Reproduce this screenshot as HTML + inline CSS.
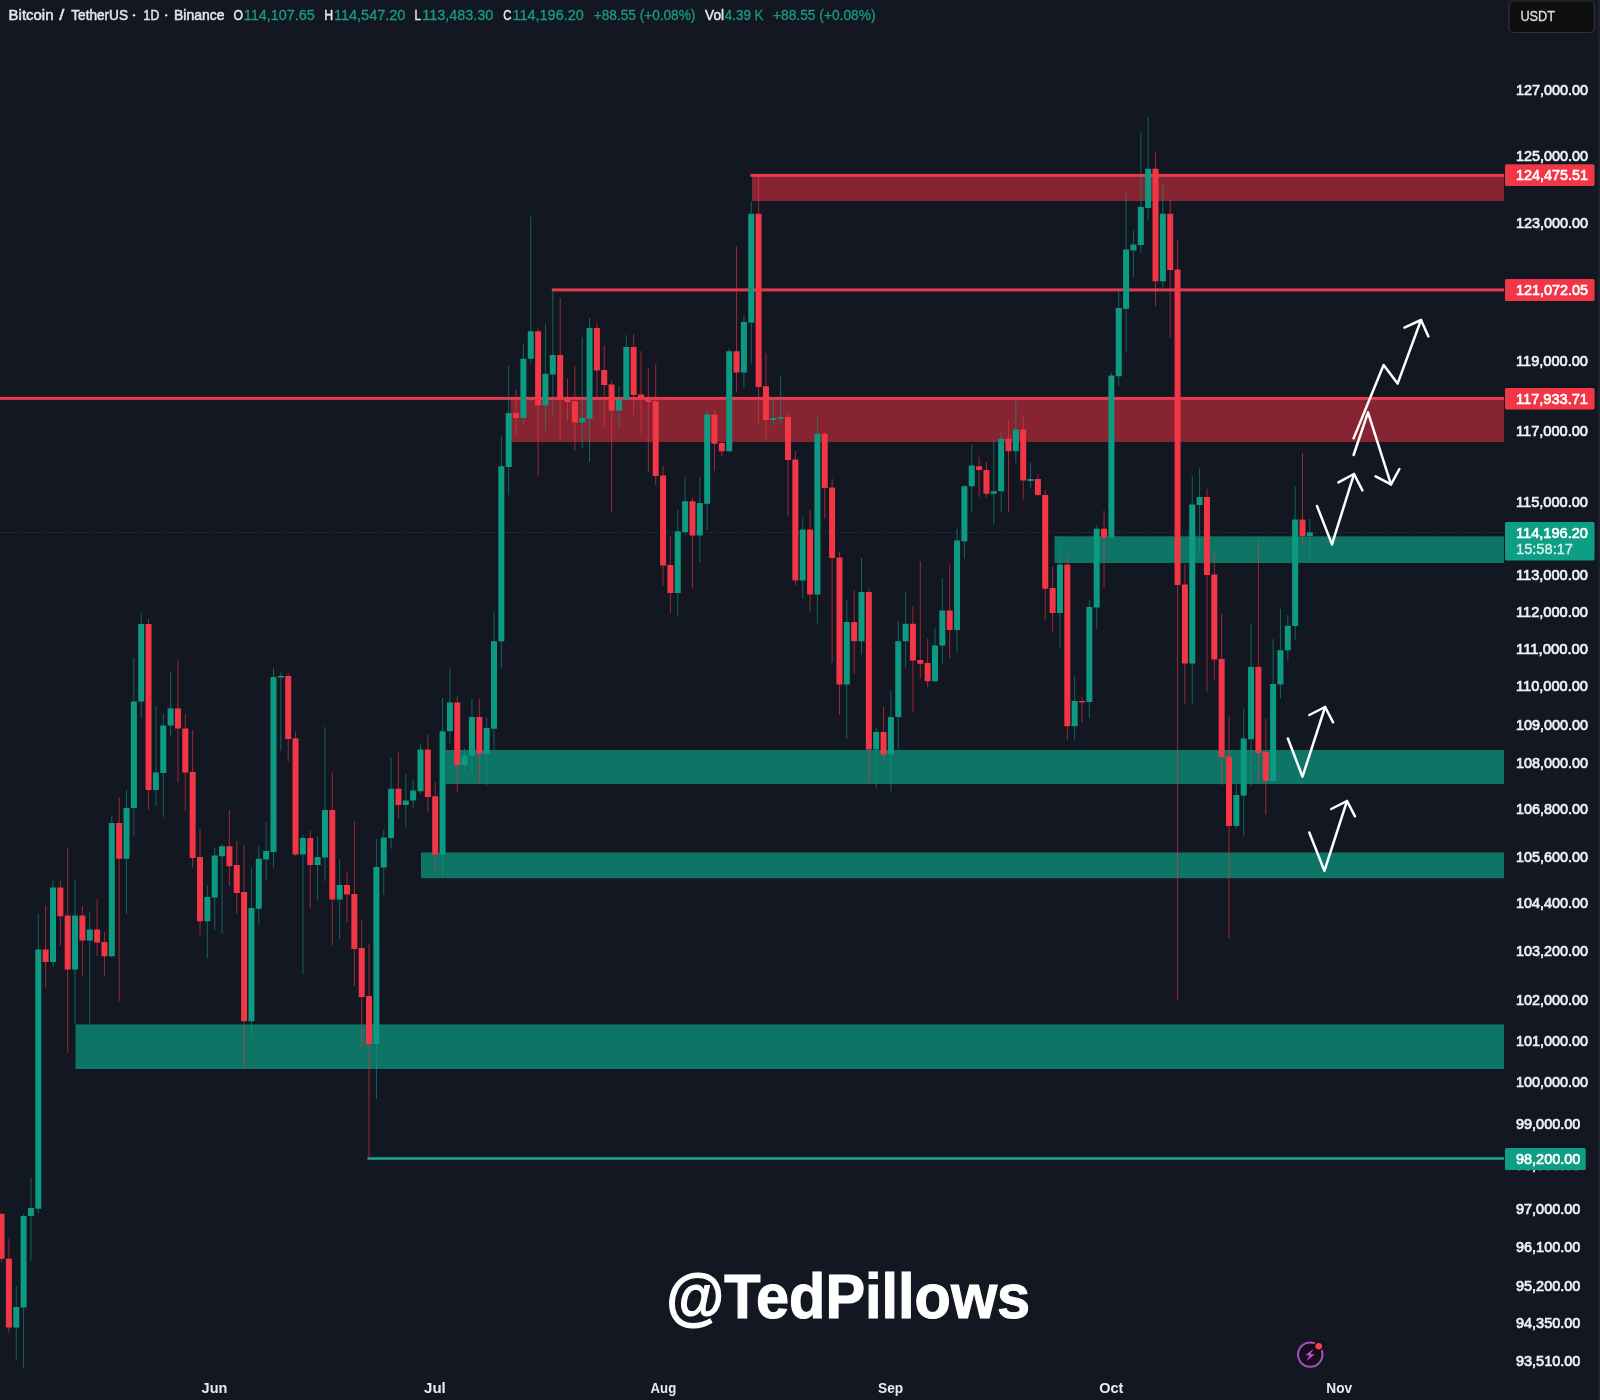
<!DOCTYPE html><html><head><meta charset="utf-8"><title>BTCUSDT</title>
<style>html,body{margin:0;padding:0;background:#131722;overflow:hidden}svg{display:block}text{font-family:"Liberation Sans",sans-serif}</style></head><body>
<svg width="1600" height="1400" viewBox="0 0 1600 1400" >
<defs><filter id="idf" x="0" y="0" width="1" height="1" filterUnits="objectBoundingBox" color-interpolation-filters="sRGB"><feOffset dx="0" dy="0"/></filter></defs>
<rect x="0" y="0" width="1600" height="1400" fill="#131722"/>
<rect x="1598" y="0" width="2" height="1400" fill="#1e222d"/>
<g id="zones">
<rect x="752" y="175" width="752" height="26" fill="#872431"/>
<rect x="750.5" y="173.9" width="753.5" height="3" fill="#e43c4e"/>
<rect x="551.8" y="288.4" width="952.2" height="3" fill="#e43c4e"/>
<rect x="510.5" y="398" width="993.5" height="44" fill="#872431"/>
<rect x="0" y="396.9" width="1504" height="3" fill="#e43c4e"/>
<rect x="1054.5" y="536.3" width="449.5" height="26.7" fill="#0e7466"/>
<rect x="445.5" y="750" width="1058.5" height="34" fill="#0e7466"/>
<rect x="421" y="852.5" width="1083" height="25.7" fill="#0e7466"/>
<rect x="75.5" y="1024.4" width="1428.5" height="44.6" fill="#0e7466"/>
<rect x="367.5" y="1157.2" width="1136.5" height="2.6" fill="#1aa28c"/>
</g>
<line x1="0" y1="532.5" x2="1504" y2="532.5" stroke="#089981" stroke-width="1" stroke-dasharray="1 2" opacity="0.45"/>
<g id="candles">
<rect x="1.05" y="1213.75" width="1" height="48.75" fill="#F23645" opacity="0.6"/>
<rect x="-1.45" y="1213.75" width="6.00" height="45.00" fill="#F23645"/>
<rect x="8.40" y="1239.00" width="1" height="93.50" fill="#F23645" opacity="0.6"/>
<rect x="5.90" y="1258.75" width="6.00" height="68.75" fill="#F23645"/>
<rect x="15.75" y="1286.00" width="1" height="74.00" fill="#0c9a83" opacity="0.6"/>
<rect x="13.25" y="1307.00" width="6.00" height="20.50" fill="#0c9a83"/>
<rect x="23.10" y="1213.75" width="1" height="153.75" fill="#0c9a83" opacity="0.6"/>
<rect x="20.60" y="1216.00" width="6.00" height="91.50" fill="#0c9a83"/>
<rect x="30.45" y="1178.00" width="1" height="83.00" fill="#0c9a83" opacity="0.6"/>
<rect x="27.95" y="1208.00" width="6.00" height="8.00" fill="#0c9a83"/>
<rect x="37.80" y="913.75" width="1" height="300.00" fill="#0c9a83" opacity="0.6"/>
<rect x="35.30" y="949.50" width="6.00" height="259.25" fill="#0c9a83"/>
<rect x="45.15" y="905.50" width="1" height="82.00" fill="#F23645" opacity="0.6"/>
<rect x="42.65" y="949.50" width="6.00" height="12.50" fill="#F23645"/>
<rect x="52.50" y="880.00" width="1" height="87.00" fill="#0c9a83" opacity="0.6"/>
<rect x="50.00" y="887.50" width="6.00" height="74.50" fill="#0c9a83"/>
<rect x="59.85" y="880.50" width="1" height="65.50" fill="#F23645" opacity="0.6"/>
<rect x="57.35" y="887.50" width="6.00" height="28.75" fill="#F23645"/>
<rect x="67.20" y="848.00" width="1" height="205.00" fill="#F23645" opacity="0.6"/>
<rect x="64.70" y="915.50" width="6.00" height="54.00" fill="#F23645"/>
<rect x="74.55" y="880.50" width="1" height="143.50" fill="#0c9a83" opacity="0.6"/>
<rect x="72.05" y="915.50" width="6.00" height="54.00" fill="#0c9a83"/>
<rect x="81.90" y="906.00" width="1" height="70.00" fill="#F23645" opacity="0.6"/>
<rect x="79.40" y="915.50" width="6.00" height="25.00" fill="#F23645"/>
<rect x="89.25" y="912.00" width="1" height="112.00" fill="#0c9a83" opacity="0.6"/>
<rect x="86.75" y="929.50" width="6.00" height="11.00" fill="#0c9a83"/>
<rect x="96.60" y="899.00" width="1" height="57.00" fill="#F23645" opacity="0.6"/>
<rect x="94.10" y="929.50" width="6.00" height="13.00" fill="#F23645"/>
<rect x="103.95" y="932.00" width="1" height="44.00" fill="#F23645" opacity="0.6"/>
<rect x="101.45" y="942.00" width="6.00" height="14.25" fill="#F23645"/>
<rect x="111.30" y="816.00" width="1" height="141.50" fill="#0c9a83" opacity="0.6"/>
<rect x="108.80" y="823.00" width="6.00" height="133.25" fill="#0c9a83"/>
<rect x="118.65" y="797.50" width="1" height="203.50" fill="#F23645" opacity="0.6"/>
<rect x="116.15" y="823.00" width="6.00" height="35.75" fill="#F23645"/>
<rect x="126.00" y="790.00" width="1" height="124.00" fill="#0c9a83" opacity="0.6"/>
<rect x="123.50" y="808.00" width="6.00" height="50.75" fill="#0c9a83"/>
<rect x="133.35" y="657.40" width="1" height="178.60" fill="#0c9a83" opacity="0.6"/>
<rect x="130.85" y="701.50" width="6.00" height="106.50" fill="#0c9a83"/>
<rect x="140.70" y="613.00" width="1" height="105.00" fill="#0c9a83" opacity="0.6"/>
<rect x="138.20" y="624.00" width="6.00" height="77.50" fill="#0c9a83"/>
<rect x="148.05" y="619.00" width="1" height="191.00" fill="#F23645" opacity="0.6"/>
<rect x="145.55" y="624.00" width="6.00" height="166.00" fill="#F23645"/>
<rect x="155.40" y="706.00" width="1" height="100.00" fill="#0c9a83" opacity="0.6"/>
<rect x="152.90" y="772.50" width="6.00" height="17.50" fill="#0c9a83"/>
<rect x="162.75" y="713.50" width="1" height="103.50" fill="#0c9a83" opacity="0.6"/>
<rect x="160.25" y="725.50" width="6.00" height="47.50" fill="#0c9a83"/>
<rect x="170.10" y="671.50" width="1" height="64.50" fill="#0c9a83" opacity="0.6"/>
<rect x="167.60" y="708.40" width="6.00" height="17.10" fill="#0c9a83"/>
<rect x="177.45" y="660.40" width="1" height="122.10" fill="#F23645" opacity="0.6"/>
<rect x="174.95" y="708.40" width="6.00" height="20.10" fill="#F23645"/>
<rect x="184.80" y="714.40" width="1" height="96.60" fill="#F23645" opacity="0.6"/>
<rect x="182.30" y="728.50" width="6.00" height="44.00" fill="#F23645"/>
<rect x="192.15" y="730.00" width="1" height="137.50" fill="#F23645" opacity="0.6"/>
<rect x="189.65" y="772.00" width="6.00" height="86.00" fill="#F23645"/>
<rect x="199.50" y="829.00" width="1" height="106.00" fill="#F23645" opacity="0.6"/>
<rect x="197.00" y="857.00" width="6.00" height="64.25" fill="#F23645"/>
<rect x="206.85" y="885.00" width="1" height="73.00" fill="#0c9a83" opacity="0.6"/>
<rect x="204.35" y="897.00" width="6.00" height="24.25" fill="#0c9a83"/>
<rect x="214.20" y="847.50" width="1" height="82.50" fill="#0c9a83" opacity="0.6"/>
<rect x="211.70" y="855.50" width="6.00" height="42.00" fill="#0c9a83"/>
<rect x="221.55" y="843.75" width="1" height="90.00" fill="#0c9a83" opacity="0.6"/>
<rect x="219.05" y="846.25" width="6.00" height="10.00" fill="#0c9a83"/>
<rect x="228.90" y="810.00" width="1" height="76.00" fill="#F23645" opacity="0.6"/>
<rect x="226.40" y="846.25" width="6.00" height="20.00" fill="#F23645"/>
<rect x="236.25" y="841.00" width="1" height="73.00" fill="#F23645" opacity="0.6"/>
<rect x="233.75" y="865.00" width="6.00" height="28.00" fill="#F23645"/>
<rect x="243.60" y="845.00" width="1" height="222.50" fill="#F23645" opacity="0.6"/>
<rect x="241.10" y="892.00" width="6.00" height="129.25" fill="#F23645"/>
<rect x="250.95" y="867.50" width="1" height="170.00" fill="#0c9a83" opacity="0.6"/>
<rect x="248.45" y="908.00" width="6.00" height="113.25" fill="#0c9a83"/>
<rect x="258.30" y="846.00" width="1" height="79.00" fill="#0c9a83" opacity="0.6"/>
<rect x="255.80" y="858.75" width="6.00" height="50.00" fill="#0c9a83"/>
<rect x="265.65" y="822.50" width="1" height="57.50" fill="#0c9a83" opacity="0.6"/>
<rect x="263.15" y="851.00" width="6.00" height="8.50" fill="#0c9a83"/>
<rect x="273.00" y="668.00" width="1" height="199.50" fill="#0c9a83" opacity="0.6"/>
<rect x="270.50" y="677.00" width="6.00" height="175.00" fill="#0c9a83"/>
<rect x="280.35" y="672.40" width="1" height="78.60" fill="#0c9a83" opacity="0.6"/>
<rect x="277.85" y="676.00" width="6.00" height="1.50" fill="#0c9a83"/>
<rect x="287.70" y="673.00" width="1" height="88.50" fill="#F23645" opacity="0.6"/>
<rect x="285.20" y="676.00" width="6.00" height="63.00" fill="#F23645"/>
<rect x="295.05" y="731.50" width="1" height="124.50" fill="#F23645" opacity="0.6"/>
<rect x="292.55" y="738.40" width="6.00" height="116.10" fill="#F23645"/>
<rect x="302.40" y="834.50" width="1" height="139.25" fill="#0c9a83" opacity="0.6"/>
<rect x="299.90" y="838.00" width="6.00" height="16.50" fill="#0c9a83"/>
<rect x="309.75" y="831.00" width="1" height="77.00" fill="#F23645" opacity="0.6"/>
<rect x="307.25" y="838.00" width="6.00" height="27.00" fill="#F23645"/>
<rect x="317.10" y="836.00" width="1" height="64.00" fill="#0c9a83" opacity="0.6"/>
<rect x="314.60" y="857.00" width="6.00" height="8.00" fill="#0c9a83"/>
<rect x="324.45" y="727.00" width="1" height="154.00" fill="#0c9a83" opacity="0.6"/>
<rect x="321.95" y="810.00" width="6.00" height="47.50" fill="#0c9a83"/>
<rect x="331.80" y="772.50" width="1" height="172.50" fill="#F23645" opacity="0.6"/>
<rect x="329.30" y="810.00" width="6.00" height="89.50" fill="#F23645"/>
<rect x="339.15" y="859.00" width="1" height="80.00" fill="#0c9a83" opacity="0.6"/>
<rect x="336.65" y="885.00" width="6.00" height="14.50" fill="#0c9a83"/>
<rect x="346.50" y="872.00" width="1" height="50.50" fill="#F23645" opacity="0.6"/>
<rect x="344.00" y="885.00" width="6.00" height="9.50" fill="#F23645"/>
<rect x="353.85" y="821.00" width="1" height="165.00" fill="#F23645" opacity="0.6"/>
<rect x="351.35" y="894.00" width="6.00" height="55.00" fill="#F23645"/>
<rect x="361.20" y="920.50" width="1" height="127.00" fill="#F23645" opacity="0.6"/>
<rect x="358.70" y="948.00" width="6.00" height="49.00" fill="#F23645"/>
<rect x="368.55" y="944.00" width="1" height="214.00" fill="#F23645" opacity="0.6"/>
<rect x="366.05" y="996.00" width="6.00" height="48.00" fill="#F23645"/>
<rect x="375.90" y="839.00" width="1" height="259.75" fill="#0c9a83" opacity="0.6"/>
<rect x="373.40" y="867.00" width="6.00" height="177.00" fill="#0c9a83"/>
<rect x="383.25" y="829.50" width="1" height="65.50" fill="#0c9a83" opacity="0.6"/>
<rect x="380.75" y="837.50" width="6.00" height="30.00" fill="#0c9a83"/>
<rect x="390.60" y="757.50" width="1" height="91.25" fill="#0c9a83" opacity="0.6"/>
<rect x="388.10" y="788.75" width="6.00" height="49.25" fill="#0c9a83"/>
<rect x="397.95" y="752.50" width="1" height="66.25" fill="#F23645" opacity="0.6"/>
<rect x="395.45" y="788.75" width="6.00" height="16.25" fill="#F23645"/>
<rect x="405.30" y="773.75" width="1" height="53.25" fill="#0c9a83" opacity="0.6"/>
<rect x="402.80" y="800.50" width="6.00" height="4.50" fill="#0c9a83"/>
<rect x="412.65" y="780.00" width="1" height="28.00" fill="#0c9a83" opacity="0.6"/>
<rect x="410.15" y="790.50" width="6.00" height="10.00" fill="#0c9a83"/>
<rect x="420.00" y="743.75" width="1" height="50.75" fill="#0c9a83" opacity="0.6"/>
<rect x="417.50" y="749.50" width="6.00" height="41.75" fill="#0c9a83"/>
<rect x="427.35" y="734.50" width="1" height="77.50" fill="#F23645" opacity="0.6"/>
<rect x="424.85" y="749.50" width="6.00" height="47.50" fill="#F23645"/>
<rect x="434.70" y="782.00" width="1" height="89.25" fill="#F23645" opacity="0.6"/>
<rect x="432.20" y="796.25" width="6.00" height="58.25" fill="#F23645"/>
<rect x="442.05" y="698.25" width="1" height="178.00" fill="#0c9a83" opacity="0.6"/>
<rect x="439.55" y="731.25" width="6.00" height="123.25" fill="#0c9a83"/>
<rect x="449.40" y="667.50" width="1" height="76.25" fill="#0c9a83" opacity="0.6"/>
<rect x="446.90" y="702.50" width="6.00" height="28.75" fill="#0c9a83"/>
<rect x="456.75" y="696.25" width="1" height="96.25" fill="#F23645" opacity="0.6"/>
<rect x="454.25" y="702.50" width="6.00" height="62.50" fill="#F23645"/>
<rect x="464.10" y="748.00" width="1" height="24.50" fill="#0c9a83" opacity="0.6"/>
<rect x="461.60" y="755.50" width="6.00" height="9.50" fill="#0c9a83"/>
<rect x="471.45" y="698.75" width="1" height="76.25" fill="#0c9a83" opacity="0.6"/>
<rect x="468.95" y="717.00" width="6.00" height="38.50" fill="#0c9a83"/>
<rect x="478.80" y="698.75" width="1" height="85.00" fill="#F23645" opacity="0.6"/>
<rect x="476.30" y="717.00" width="6.00" height="36.75" fill="#F23645"/>
<rect x="486.15" y="717.50" width="1" height="68.00" fill="#0c9a83" opacity="0.6"/>
<rect x="483.65" y="728.00" width="6.00" height="25.75" fill="#0c9a83"/>
<rect x="493.50" y="612.50" width="1" height="137.50" fill="#0c9a83" opacity="0.6"/>
<rect x="491.00" y="641.25" width="6.00" height="87.50" fill="#0c9a83"/>
<rect x="500.85" y="436.00" width="1" height="232.00" fill="#0c9a83" opacity="0.6"/>
<rect x="498.35" y="466.25" width="6.00" height="175.00" fill="#0c9a83"/>
<rect x="508.20" y="365.50" width="1" height="129.50" fill="#0c9a83" opacity="0.6"/>
<rect x="505.70" y="413.00" width="6.00" height="54.00" fill="#0c9a83"/>
<rect x="515.55" y="389.50" width="1" height="45.50" fill="#F23645" opacity="0.6"/>
<rect x="513.05" y="413.00" width="6.00" height="5.00" fill="#F23645"/>
<rect x="522.90" y="343.75" width="1" height="80.00" fill="#0c9a83" opacity="0.6"/>
<rect x="520.40" y="358.75" width="6.00" height="59.25" fill="#0c9a83"/>
<rect x="530.25" y="216.25" width="1" height="147.50" fill="#0c9a83" opacity="0.6"/>
<rect x="527.75" y="331.25" width="6.00" height="27.50" fill="#0c9a83"/>
<rect x="537.60" y="328.75" width="1" height="147.50" fill="#F23645" opacity="0.6"/>
<rect x="535.10" y="331.25" width="6.00" height="74.25" fill="#F23645"/>
<rect x="544.95" y="323.75" width="1" height="107.50" fill="#0c9a83" opacity="0.6"/>
<rect x="542.45" y="373.75" width="6.00" height="31.75" fill="#0c9a83"/>
<rect x="552.30" y="291.25" width="1" height="123.75" fill="#0c9a83" opacity="0.6"/>
<rect x="549.80" y="355.00" width="6.00" height="19.50" fill="#0c9a83"/>
<rect x="559.65" y="298.00" width="1" height="142.00" fill="#F23645" opacity="0.6"/>
<rect x="557.15" y="355.00" width="6.00" height="44.50" fill="#F23645"/>
<rect x="567.00" y="378.75" width="1" height="42.25" fill="#F23645" opacity="0.6"/>
<rect x="564.50" y="398.75" width="6.00" height="3.25" fill="#F23645"/>
<rect x="574.35" y="366.25" width="1" height="84.25" fill="#F23645" opacity="0.6"/>
<rect x="571.85" y="401.25" width="6.00" height="21.25" fill="#F23645"/>
<rect x="581.70" y="337.00" width="1" height="111.75" fill="#0c9a83" opacity="0.6"/>
<rect x="579.20" y="418.00" width="6.00" height="4.50" fill="#0c9a83"/>
<rect x="589.05" y="318.00" width="1" height="144.00" fill="#0c9a83" opacity="0.6"/>
<rect x="586.55" y="328.00" width="6.00" height="90.75" fill="#0c9a83"/>
<rect x="596.40" y="323.00" width="1" height="77.00" fill="#F23645" opacity="0.6"/>
<rect x="593.90" y="328.00" width="6.00" height="42.50" fill="#F23645"/>
<rect x="603.75" y="345.50" width="1" height="82.00" fill="#F23645" opacity="0.6"/>
<rect x="601.25" y="370.00" width="6.00" height="15.00" fill="#F23645"/>
<rect x="611.10" y="380.50" width="1" height="132.00" fill="#F23645" opacity="0.6"/>
<rect x="608.60" y="384.50" width="6.00" height="26.00" fill="#F23645"/>
<rect x="618.45" y="386.00" width="1" height="41.00" fill="#0c9a83" opacity="0.6"/>
<rect x="615.95" y="399.50" width="6.00" height="11.00" fill="#0c9a83"/>
<rect x="625.80" y="335.00" width="1" height="65.00" fill="#0c9a83" opacity="0.6"/>
<rect x="623.30" y="347.00" width="6.00" height="52.50" fill="#0c9a83"/>
<rect x="633.15" y="333.75" width="1" height="81.25" fill="#F23645" opacity="0.6"/>
<rect x="630.65" y="347.00" width="6.00" height="48.00" fill="#F23645"/>
<rect x="640.50" y="351.25" width="1" height="82.50" fill="#F23645" opacity="0.6"/>
<rect x="638.00" y="394.50" width="6.00" height="4.25" fill="#F23645"/>
<rect x="647.85" y="368.00" width="1" height="104.00" fill="#F23645" opacity="0.6"/>
<rect x="645.35" y="398.75" width="6.00" height="3.25" fill="#F23645"/>
<rect x="655.20" y="363.75" width="1" height="121.25" fill="#F23645" opacity="0.6"/>
<rect x="652.70" y="401.25" width="6.00" height="74.75" fill="#F23645"/>
<rect x="662.55" y="465.50" width="1" height="120.50" fill="#F23645" opacity="0.6"/>
<rect x="660.05" y="475.50" width="6.00" height="90.00" fill="#F23645"/>
<rect x="669.90" y="536.00" width="1" height="77.00" fill="#F23645" opacity="0.6"/>
<rect x="667.40" y="565.00" width="6.00" height="28.00" fill="#F23645"/>
<rect x="677.25" y="510.00" width="1" height="106.00" fill="#0c9a83" opacity="0.6"/>
<rect x="674.75" y="531.25" width="6.00" height="61.75" fill="#0c9a83"/>
<rect x="684.60" y="477.00" width="1" height="58.00" fill="#0c9a83" opacity="0.6"/>
<rect x="682.10" y="501.25" width="6.00" height="30.75" fill="#0c9a83"/>
<rect x="691.95" y="497.50" width="1" height="90.50" fill="#F23645" opacity="0.6"/>
<rect x="689.45" y="501.25" width="6.00" height="34.25" fill="#F23645"/>
<rect x="699.30" y="477.00" width="1" height="85.50" fill="#0c9a83" opacity="0.6"/>
<rect x="696.80" y="503.00" width="6.00" height="32.50" fill="#0c9a83"/>
<rect x="706.65" y="410.00" width="1" height="120.00" fill="#0c9a83" opacity="0.6"/>
<rect x="704.15" y="414.50" width="6.00" height="89.25" fill="#0c9a83"/>
<rect x="714.00" y="410.00" width="1" height="61.00" fill="#F23645" opacity="0.6"/>
<rect x="711.50" y="414.50" width="6.00" height="29.25" fill="#F23645"/>
<rect x="721.35" y="441.00" width="1" height="15.25" fill="#F23645" opacity="0.6"/>
<rect x="718.85" y="443.00" width="6.00" height="8.25" fill="#F23645"/>
<rect x="728.70" y="348.75" width="1" height="103.25" fill="#0c9a83" opacity="0.6"/>
<rect x="726.20" y="351.25" width="6.00" height="100.00" fill="#0c9a83"/>
<rect x="736.05" y="246.25" width="1" height="146.25" fill="#F23645" opacity="0.6"/>
<rect x="733.55" y="351.25" width="6.00" height="21.25" fill="#F23645"/>
<rect x="743.40" y="315.50" width="1" height="72.50" fill="#0c9a83" opacity="0.6"/>
<rect x="740.90" y="322.00" width="6.00" height="50.50" fill="#0c9a83"/>
<rect x="750.75" y="201.50" width="1" height="162.25" fill="#0c9a83" opacity="0.6"/>
<rect x="748.25" y="213.75" width="6.00" height="108.75" fill="#0c9a83"/>
<rect x="758.10" y="176.50" width="1" height="248.50" fill="#F23645" opacity="0.6"/>
<rect x="755.60" y="213.75" width="6.00" height="173.25" fill="#F23645"/>
<rect x="765.45" y="353.00" width="1" height="86.50" fill="#F23645" opacity="0.6"/>
<rect x="762.95" y="386.25" width="6.00" height="33.75" fill="#F23645"/>
<rect x="772.80" y="400.00" width="1" height="26.00" fill="#0c9a83" opacity="0.6"/>
<rect x="770.30" y="418.00" width="6.00" height="2.00" fill="#0c9a83"/>
<rect x="780.15" y="376.00" width="1" height="49.00" fill="#0c9a83" opacity="0.6"/>
<rect x="777.65" y="417.00" width="6.00" height="1.75" fill="#0c9a83"/>
<rect x="787.50" y="412.50" width="1" height="103.50" fill="#F23645" opacity="0.6"/>
<rect x="785.00" y="417.00" width="6.00" height="43.00" fill="#F23645"/>
<rect x="794.85" y="451.00" width="1" height="134.00" fill="#F23645" opacity="0.6"/>
<rect x="792.35" y="459.50" width="6.00" height="121.00" fill="#F23645"/>
<rect x="802.20" y="517.00" width="1" height="81.75" fill="#0c9a83" opacity="0.6"/>
<rect x="799.70" y="529.50" width="6.00" height="51.00" fill="#0c9a83"/>
<rect x="809.55" y="510.00" width="1" height="102.00" fill="#F23645" opacity="0.6"/>
<rect x="807.05" y="529.50" width="6.00" height="65.00" fill="#F23645"/>
<rect x="816.90" y="416.00" width="1" height="207.75" fill="#0c9a83" opacity="0.6"/>
<rect x="814.40" y="433.75" width="6.00" height="160.75" fill="#0c9a83"/>
<rect x="824.25" y="431.00" width="1" height="87.75" fill="#F23645" opacity="0.6"/>
<rect x="821.75" y="433.75" width="6.00" height="54.25" fill="#F23645"/>
<rect x="831.60" y="478.75" width="1" height="183.75" fill="#F23645" opacity="0.6"/>
<rect x="829.10" y="487.50" width="6.00" height="70.50" fill="#F23645"/>
<rect x="838.95" y="552.00" width="1" height="163.00" fill="#F23645" opacity="0.6"/>
<rect x="836.45" y="557.50" width="6.00" height="127.00" fill="#F23645"/>
<rect x="846.30" y="599.50" width="1" height="139.25" fill="#0c9a83" opacity="0.6"/>
<rect x="843.80" y="622.00" width="6.00" height="62.50" fill="#0c9a83"/>
<rect x="853.65" y="590.00" width="1" height="83.75" fill="#F23645" opacity="0.6"/>
<rect x="851.15" y="622.00" width="6.00" height="19.25" fill="#F23645"/>
<rect x="861.00" y="558.00" width="1" height="96.50" fill="#0c9a83" opacity="0.6"/>
<rect x="858.50" y="592.00" width="6.00" height="49.25" fill="#0c9a83"/>
<rect x="868.35" y="588.75" width="1" height="195.00" fill="#F23645" opacity="0.6"/>
<rect x="865.85" y="592.00" width="6.00" height="157.50" fill="#F23645"/>
<rect x="875.70" y="728.00" width="1" height="60.75" fill="#0c9a83" opacity="0.6"/>
<rect x="873.20" y="732.00" width="6.00" height="17.50" fill="#0c9a83"/>
<rect x="883.05" y="707.00" width="1" height="53.00" fill="#F23645" opacity="0.6"/>
<rect x="880.55" y="732.00" width="6.00" height="22.50" fill="#F23645"/>
<rect x="890.40" y="690.50" width="1" height="100.50" fill="#0c9a83" opacity="0.6"/>
<rect x="887.90" y="717.00" width="6.00" height="37.50" fill="#0c9a83"/>
<rect x="897.75" y="621.25" width="1" height="127.50" fill="#0c9a83" opacity="0.6"/>
<rect x="895.25" y="641.25" width="6.00" height="75.75" fill="#0c9a83"/>
<rect x="905.10" y="592.00" width="1" height="75.50" fill="#0c9a83" opacity="0.6"/>
<rect x="902.60" y="623.75" width="6.00" height="17.50" fill="#0c9a83"/>
<rect x="912.45" y="606.25" width="1" height="105.75" fill="#F23645" opacity="0.6"/>
<rect x="909.95" y="623.75" width="6.00" height="36.75" fill="#F23645"/>
<rect x="919.80" y="561.25" width="1" height="117.50" fill="#F23645" opacity="0.6"/>
<rect x="917.30" y="660.00" width="6.00" height="3.75" fill="#F23645"/>
<rect x="927.15" y="638.75" width="1" height="48.75" fill="#F23645" opacity="0.6"/>
<rect x="924.65" y="663.00" width="6.00" height="18.25" fill="#F23645"/>
<rect x="934.50" y="628.00" width="1" height="54.00" fill="#0c9a83" opacity="0.6"/>
<rect x="932.00" y="645.50" width="6.00" height="35.75" fill="#0c9a83"/>
<rect x="941.85" y="578.75" width="1" height="85.00" fill="#0c9a83" opacity="0.6"/>
<rect x="939.35" y="610.50" width="6.00" height="35.00" fill="#0c9a83"/>
<rect x="949.20" y="564.50" width="1" height="94.25" fill="#F23645" opacity="0.6"/>
<rect x="946.70" y="610.50" width="6.00" height="19.50" fill="#F23645"/>
<rect x="956.55" y="528.75" width="1" height="124.25" fill="#0c9a83" opacity="0.6"/>
<rect x="954.05" y="540.50" width="6.00" height="89.50" fill="#0c9a83"/>
<rect x="963.90" y="485.00" width="1" height="74.00" fill="#0c9a83" opacity="0.6"/>
<rect x="961.40" y="486.25" width="6.00" height="55.00" fill="#0c9a83"/>
<rect x="971.25" y="444.50" width="1" height="67.50" fill="#0c9a83" opacity="0.6"/>
<rect x="968.75" y="465.50" width="6.00" height="20.75" fill="#0c9a83"/>
<rect x="978.60" y="457.00" width="1" height="40.00" fill="#F23645" opacity="0.6"/>
<rect x="976.10" y="466.25" width="6.00" height="3.75" fill="#F23645"/>
<rect x="985.95" y="462.00" width="1" height="35.50" fill="#F23645" opacity="0.6"/>
<rect x="983.45" y="470.00" width="6.00" height="23.75" fill="#F23645"/>
<rect x="993.30" y="440.00" width="1" height="84.50" fill="#0c9a83" opacity="0.6"/>
<rect x="990.80" y="491.25" width="6.00" height="2.50" fill="#0c9a83"/>
<rect x="1000.65" y="433.00" width="1" height="79.00" fill="#0c9a83" opacity="0.6"/>
<rect x="998.15" y="438.75" width="6.00" height="52.50" fill="#0c9a83"/>
<rect x="1008.00" y="421.25" width="1" height="90.75" fill="#F23645" opacity="0.6"/>
<rect x="1005.50" y="438.75" width="6.00" height="12.50" fill="#F23645"/>
<rect x="1015.35" y="400.50" width="1" height="62.50" fill="#0c9a83" opacity="0.6"/>
<rect x="1012.85" y="429.50" width="6.00" height="21.75" fill="#0c9a83"/>
<rect x="1022.70" y="416.25" width="1" height="83.25" fill="#F23645" opacity="0.6"/>
<rect x="1020.20" y="429.50" width="6.00" height="51.00" fill="#F23645"/>
<rect x="1030.05" y="462.50" width="1" height="25.50" fill="#0c9a83" opacity="0.6"/>
<rect x="1027.55" y="479.00" width="6.00" height="2.00" fill="#0c9a83"/>
<rect x="1037.40" y="474.50" width="1" height="21.50" fill="#F23645" opacity="0.6"/>
<rect x="1034.90" y="479.00" width="6.00" height="16.00" fill="#F23645"/>
<rect x="1044.75" y="490.00" width="1" height="130.00" fill="#F23645" opacity="0.6"/>
<rect x="1042.25" y="495.00" width="6.00" height="93.75" fill="#F23645"/>
<rect x="1052.10" y="566.25" width="1" height="66.25" fill="#F23645" opacity="0.6"/>
<rect x="1049.60" y="588.00" width="6.00" height="25.00" fill="#F23645"/>
<rect x="1059.45" y="541.25" width="1" height="106.75" fill="#0c9a83" opacity="0.6"/>
<rect x="1056.95" y="564.50" width="6.00" height="48.50" fill="#0c9a83"/>
<rect x="1066.80" y="556.50" width="1" height="183.50" fill="#F23645" opacity="0.6"/>
<rect x="1064.30" y="564.50" width="6.00" height="161.70" fill="#F23645"/>
<rect x="1074.15" y="676.00" width="1" height="64.30" fill="#0c9a83" opacity="0.6"/>
<rect x="1071.65" y="701.00" width="6.00" height="25.20" fill="#0c9a83"/>
<rect x="1081.50" y="697.00" width="1" height="26.00" fill="#F23645" opacity="0.6"/>
<rect x="1079.00" y="701.00" width="6.00" height="1.40" fill="#F23645"/>
<rect x="1088.85" y="600.00" width="1" height="118.00" fill="#0c9a83" opacity="0.6"/>
<rect x="1086.35" y="607.00" width="6.00" height="95.00" fill="#0c9a83"/>
<rect x="1096.20" y="525.00" width="1" height="103.75" fill="#0c9a83" opacity="0.6"/>
<rect x="1093.70" y="528.75" width="6.00" height="78.75" fill="#0c9a83"/>
<rect x="1103.55" y="510.50" width="1" height="77.50" fill="#F23645" opacity="0.6"/>
<rect x="1101.05" y="528.75" width="6.00" height="8.75" fill="#F23645"/>
<rect x="1110.90" y="372.50" width="1" height="165.50" fill="#0c9a83" opacity="0.6"/>
<rect x="1108.40" y="375.50" width="6.00" height="162.00" fill="#0c9a83"/>
<rect x="1118.25" y="290.00" width="1" height="96.00" fill="#0c9a83" opacity="0.6"/>
<rect x="1115.75" y="308.00" width="6.00" height="68.25" fill="#0c9a83"/>
<rect x="1125.60" y="193.00" width="1" height="159.50" fill="#0c9a83" opacity="0.6"/>
<rect x="1123.10" y="249.50" width="6.00" height="59.25" fill="#0c9a83"/>
<rect x="1132.95" y="230.50" width="1" height="47.00" fill="#0c9a83" opacity="0.6"/>
<rect x="1130.45" y="244.50" width="6.00" height="6.00" fill="#0c9a83"/>
<rect x="1140.30" y="133.00" width="1" height="119.50" fill="#0c9a83" opacity="0.6"/>
<rect x="1137.80" y="207.00" width="6.00" height="38.00" fill="#0c9a83"/>
<rect x="1147.65" y="117.00" width="1" height="103.50" fill="#0c9a83" opacity="0.6"/>
<rect x="1145.15" y="168.75" width="6.00" height="39.25" fill="#0c9a83"/>
<rect x="1155.00" y="152.50" width="1" height="153.75" fill="#F23645" opacity="0.6"/>
<rect x="1152.50" y="168.75" width="6.00" height="112.50" fill="#F23645"/>
<rect x="1162.35" y="183.75" width="1" height="103.75" fill="#0c9a83" opacity="0.6"/>
<rect x="1159.85" y="213.75" width="6.00" height="67.50" fill="#0c9a83"/>
<rect x="1169.70" y="200.00" width="1" height="137.50" fill="#F23645" opacity="0.6"/>
<rect x="1167.20" y="213.75" width="6.00" height="56.25" fill="#F23645"/>
<rect x="1177.05" y="239.50" width="1" height="760.50" fill="#F23645" opacity="0.6"/>
<rect x="1174.55" y="269.50" width="6.00" height="315.50" fill="#F23645"/>
<rect x="1184.40" y="564.50" width="1" height="139.25" fill="#F23645" opacity="0.6"/>
<rect x="1181.90" y="584.50" width="6.00" height="79.00" fill="#F23645"/>
<rect x="1191.75" y="475.50" width="1" height="228.25" fill="#0c9a83" opacity="0.6"/>
<rect x="1189.25" y="504.50" width="6.00" height="159.00" fill="#0c9a83"/>
<rect x="1199.10" y="468.00" width="1" height="84.50" fill="#0c9a83" opacity="0.6"/>
<rect x="1196.60" y="497.00" width="6.00" height="8.00" fill="#0c9a83"/>
<rect x="1206.45" y="488.75" width="1" height="203.25" fill="#F23645" opacity="0.6"/>
<rect x="1203.95" y="497.00" width="6.00" height="78.00" fill="#F23645"/>
<rect x="1213.80" y="553.00" width="1" height="127.50" fill="#F23645" opacity="0.6"/>
<rect x="1211.30" y="574.50" width="6.00" height="85.00" fill="#F23645"/>
<rect x="1221.15" y="613.40" width="1" height="171.60" fill="#F23645" opacity="0.6"/>
<rect x="1218.65" y="659.00" width="6.00" height="98.00" fill="#F23645"/>
<rect x="1228.50" y="716.00" width="1" height="222.50" fill="#F23645" opacity="0.6"/>
<rect x="1226.00" y="756.50" width="6.00" height="69.50" fill="#F23645"/>
<rect x="1235.85" y="784.00" width="1" height="44.40" fill="#0c9a83" opacity="0.6"/>
<rect x="1233.35" y="795.00" width="6.00" height="31.00" fill="#0c9a83"/>
<rect x="1243.20" y="708.70" width="1" height="127.70" fill="#0c9a83" opacity="0.6"/>
<rect x="1240.70" y="738.50" width="6.00" height="57.10" fill="#0c9a83"/>
<rect x="1250.55" y="623.50" width="1" height="162.50" fill="#0c9a83" opacity="0.6"/>
<rect x="1248.05" y="666.90" width="6.00" height="72.40" fill="#0c9a83"/>
<rect x="1257.90" y="540.00" width="1" height="243.50" fill="#F23645" opacity="0.6"/>
<rect x="1255.40" y="666.90" width="6.00" height="86.10" fill="#F23645"/>
<rect x="1265.25" y="719.00" width="1" height="96.00" fill="#F23645" opacity="0.6"/>
<rect x="1262.75" y="752.00" width="6.00" height="29.00" fill="#F23645"/>
<rect x="1272.60" y="639.00" width="1" height="143.00" fill="#0c9a83" opacity="0.6"/>
<rect x="1270.10" y="684.00" width="6.00" height="97.00" fill="#0c9a83"/>
<rect x="1279.95" y="608.60" width="1" height="89.70" fill="#0c9a83" opacity="0.6"/>
<rect x="1277.45" y="650.20" width="6.00" height="34.20" fill="#0c9a83"/>
<rect x="1287.30" y="615.20" width="1" height="45.80" fill="#0c9a83" opacity="0.6"/>
<rect x="1284.80" y="625.80" width="6.00" height="24.60" fill="#0c9a83"/>
<rect x="1294.65" y="486.00" width="1" height="153.50" fill="#0c9a83" opacity="0.6"/>
<rect x="1292.15" y="519.50" width="6.00" height="106.50" fill="#0c9a83"/>
<rect x="1302.00" y="453.00" width="1" height="91.00" fill="#F23645" opacity="0.6"/>
<rect x="1299.50" y="519.60" width="6.00" height="16.40" fill="#F23645"/>
<rect x="1309.35" y="519.00" width="1" height="39.00" fill="#0c9a83" opacity="0.6"/>
<rect x="1306.85" y="532.40" width="6.00" height="3.60" fill="#0c9a83"/>
</g>
<g id="arrows">
<path d="M1353.6 438.4 L1383.6 365.0 L1397.6 383.6 L1421.0 320.0" fill="none" stroke="#fff" stroke-width="2.5" stroke-linecap="round" stroke-linejoin="round"/>
<path d="M1404.4 327.6 L1421.0 320.0 L1428.4 336.4" fill="none" stroke="#fff" stroke-width="2.5" stroke-linecap="round" stroke-linejoin="round"/>
<path d="M1353.6 455.0 L1368.0 412.4 L1391.0 484.4" fill="none" stroke="#fff" stroke-width="2.5" stroke-linecap="round" stroke-linejoin="round"/>
<path d="M1375.6 476.4 L1391.0 484.4 L1399.4 469.0" fill="none" stroke="#fff" stroke-width="2.5" stroke-linecap="round" stroke-linejoin="round"/>
<path d="M1317.0 506.0 L1332.0 544.4 L1354.0 474.0" fill="none" stroke="#fff" stroke-width="2.5" stroke-linecap="round" stroke-linejoin="round"/>
<path d="M1338.4 482.4 L1354.0 474.0 L1362.4 490.4" fill="none" stroke="#fff" stroke-width="2.5" stroke-linecap="round" stroke-linejoin="round"/>
<path d="M1287.9 738.5 L1302.5 776.7 L1325.1 707.0" fill="none" stroke="#fff" stroke-width="2.5" stroke-linecap="round" stroke-linejoin="round"/>
<path d="M1309.3 715.0 L1325.1 707.0 L1333.1 722.3" fill="none" stroke="#fff" stroke-width="2.5" stroke-linecap="round" stroke-linejoin="round"/>
<path d="M1309.3 832.5 L1324.4 870.9 L1347.0 801.0" fill="none" stroke="#fff" stroke-width="2.5" stroke-linecap="round" stroke-linejoin="round"/>
<path d="M1331.2 809.0 L1347.0 801.0 L1355.0 816.3" fill="none" stroke="#fff" stroke-width="2.5" stroke-linecap="round" stroke-linejoin="round"/>
</g>
<g id="axis" filter="url(#idf)" font-size="14.4" fill="#eef0f3" stroke="#eef0f3" stroke-width="0.7">
<text x="1516" y="95.00" textLength="72.0" lengthAdjust="spacingAndGlyphs">127,000.00</text>
<text x="1516" y="160.50" textLength="72.0" lengthAdjust="spacingAndGlyphs">125,000.00</text>
<text x="1516" y="228.00" textLength="72.0" lengthAdjust="spacingAndGlyphs">123,000.00</text>
<text x="1516" y="366.25" textLength="72.0" lengthAdjust="spacingAndGlyphs">119,000.00</text>
<text x="1516" y="435.75" textLength="72.0" lengthAdjust="spacingAndGlyphs">117,000.00</text>
<text x="1516" y="507.00" textLength="72.0" lengthAdjust="spacingAndGlyphs">115,000.00</text>
<text x="1516" y="580.00" textLength="72.0" lengthAdjust="spacingAndGlyphs">113,000.00</text>
<text x="1516" y="617.00" textLength="72.0" lengthAdjust="spacingAndGlyphs">112,000.00</text>
<text x="1516" y="653.75" textLength="72.0" lengthAdjust="spacingAndGlyphs">111,000.00</text>
<text x="1516" y="691.25" textLength="72.0" lengthAdjust="spacingAndGlyphs">110,000.00</text>
<text x="1516" y="729.50" textLength="72.0" lengthAdjust="spacingAndGlyphs">109,000.00</text>
<text x="1516" y="767.50" textLength="72.0" lengthAdjust="spacingAndGlyphs">108,000.00</text>
<text x="1516" y="814.25" textLength="72.0" lengthAdjust="spacingAndGlyphs">106,800.00</text>
<text x="1516" y="861.75" textLength="72.0" lengthAdjust="spacingAndGlyphs">105,600.00</text>
<text x="1516" y="908.00" textLength="72.0" lengthAdjust="spacingAndGlyphs">104,400.00</text>
<text x="1516" y="956.25" textLength="72.0" lengthAdjust="spacingAndGlyphs">103,200.00</text>
<text x="1516" y="1005.00" textLength="72.0" lengthAdjust="spacingAndGlyphs">102,000.00</text>
<text x="1516" y="1045.90" textLength="72.0" lengthAdjust="spacingAndGlyphs">101,000.00</text>
<text x="1516" y="1087.30" textLength="72.0" lengthAdjust="spacingAndGlyphs">100,000.00</text>
<text x="1516" y="1129.30" textLength="64.3" lengthAdjust="spacingAndGlyphs">99,000.00</text>
<text x="1516" y="1169.80" textLength="64.3" lengthAdjust="spacingAndGlyphs">98,000.00</text>
<text x="1516" y="1213.60" textLength="64.3" lengthAdjust="spacingAndGlyphs">97,000.00</text>
<text x="1516" y="1252.00" textLength="64.3" lengthAdjust="spacingAndGlyphs">96,100.00</text>
<text x="1516" y="1290.70" textLength="64.3" lengthAdjust="spacingAndGlyphs">95,200.00</text>
<text x="1516" y="1328.40" textLength="64.3" lengthAdjust="spacingAndGlyphs">94,350.00</text>
<text x="1516" y="1365.60" textLength="64.3" lengthAdjust="spacingAndGlyphs">93,510.00</text>
</g>
<rect x="1505" y="164.3" width="89.5" height="21.7" rx="1.5" fill="#F23645"/>
<rect x="1505" y="279.0" width="89.5" height="22.0" rx="1.5" fill="#F23645"/>
<rect x="1505" y="388.0" width="89.5" height="21.5" rx="1.5" fill="#F23645"/>
<rect x="1505" y="522.0" width="89.5" height="38.5" rx="1.5" fill="#0e9d85"/>
<rect x="1505" y="1148.0" width="80.7" height="22.0" rx="1.5" fill="#0e9d85"/>
<g filter="url(#idf)" font-size="14.4" fill="#ffffff" stroke="#ffffff" stroke-width="0.65">
<text x="1516" y="180.00" textLength="72.0" lengthAdjust="spacingAndGlyphs">124,475.51</text>
<text x="1516" y="294.50" textLength="72.0" lengthAdjust="spacingAndGlyphs">121,072.05</text>
<text x="1516" y="403.50" textLength="72.0" lengthAdjust="spacingAndGlyphs">117,933.71</text>
<text x="1516" y="537.50" textLength="72.0" lengthAdjust="spacingAndGlyphs">114,196.20</text>
<text x="1516" y="1163.50" textLength="64.3" lengthAdjust="spacingAndGlyphs">98,200.00</text>
<text x="1516" y="553.5" stroke="#d8f3ec" stroke-width="0.35" fill="#d8f3ec" textLength="57" lengthAdjust="spacingAndGlyphs">15:58:17</text>
</g>
<g filter="url(#idf)" font-size="14.4" font-weight="bold" fill="#e8eaee">
<text x="201.6" y="1392.8" textLength="25.8" lengthAdjust="spacingAndGlyphs">Jun</text>
<text x="424.0" y="1392.8" textLength="21.8" lengthAdjust="spacingAndGlyphs">Jul</text>
<text x="650.6" y="1392.8" textLength="25.6" lengthAdjust="spacingAndGlyphs">Aug</text>
<text x="878.0" y="1392.8" textLength="25.2" lengthAdjust="spacingAndGlyphs">Sep</text>
<text x="1099.3" y="1392.8" textLength="24.1" lengthAdjust="spacingAndGlyphs">Oct</text>
<text x="1326.3" y="1392.8" textLength="25.8" lengthAdjust="spacingAndGlyphs">Nov</text>
</g>
<g filter="url(#idf)" font-size="14">
<text x="8.6" y="19.6" fill="#e4e6eb" stroke="#e4e6eb" stroke-width="0.5" textLength="44.9" lengthAdjust="spacingAndGlyphs">Bitcoin</text>
<text x="59.2" y="19.6" fill="#e4e6eb" stroke="#e4e6eb" stroke-width="0.5" textLength="5.0" lengthAdjust="spacingAndGlyphs">/</text>
<text x="71.3" y="19.6" fill="#e4e6eb" stroke="#e4e6eb" stroke-width="0.5" textLength="56.7" lengthAdjust="spacingAndGlyphs">TetherUS</text>
<circle cx="134" cy="15.2" r="1.2" fill="#e4e6eb"/>
<text x="143.6" y="19.6" fill="#e4e6eb" stroke="#e4e6eb" stroke-width="0.5" textLength="15.6" lengthAdjust="spacingAndGlyphs">1D</text>
<circle cx="166.2" cy="15.2" r="1.2" fill="#e4e6eb"/>
<text x="174.0" y="19.6" fill="#e4e6eb" stroke="#e4e6eb" stroke-width="0.5" textLength="50.5" lengthAdjust="spacingAndGlyphs">Binance</text>
<text x="233.5" y="19.6" fill="#e4e6eb" stroke="#e4e6eb" stroke-width="0.5" textLength="9.5" lengthAdjust="spacingAndGlyphs">O</text>
<text x="243.8" y="19.6" fill="#1a9c87" stroke="#1a9c87" stroke-width="0.28" textLength="71.0" lengthAdjust="spacingAndGlyphs">114,107.65</text>
<text x="324.3" y="19.6" fill="#e4e6eb" stroke="#e4e6eb" stroke-width="0.5" textLength="8.9" lengthAdjust="spacingAndGlyphs">H</text>
<text x="334.0" y="19.6" fill="#1a9c87" stroke="#1a9c87" stroke-width="0.28" textLength="71.4" lengthAdjust="spacingAndGlyphs">114,547.20</text>
<text x="414.6" y="19.6" fill="#e4e6eb" stroke="#e4e6eb" stroke-width="0.5" textLength="6.4" lengthAdjust="spacingAndGlyphs">L</text>
<text x="422.2" y="19.6" fill="#1a9c87" stroke="#1a9c87" stroke-width="0.28" textLength="71.0" lengthAdjust="spacingAndGlyphs">113,483.30</text>
<text x="503.3" y="19.6" fill="#e4e6eb" stroke="#e4e6eb" stroke-width="0.5" textLength="8.2" lengthAdjust="spacingAndGlyphs">C</text>
<text x="512.5" y="19.6" fill="#1a9c87" stroke="#1a9c87" stroke-width="0.28" textLength="71.3" lengthAdjust="spacingAndGlyphs">114,196.20</text>
<text x="593.8" y="19.6" fill="#1a9c87" stroke="#1a9c87" stroke-width="0.28" textLength="101.5" lengthAdjust="spacingAndGlyphs">+88.55 (+0.08%)</text>
<text x="705.1" y="19.6" fill="#e4e6eb" stroke="#e4e6eb" stroke-width="0.5" textLength="18.9" lengthAdjust="spacingAndGlyphs">Vol</text>
<text x="724.8" y="19.6" fill="#1a9c87" stroke="#1a9c87" stroke-width="0.28" textLength="38.7" lengthAdjust="spacingAndGlyphs">4.39 K</text>
<text x="773.0" y="19.6" fill="#1a9c87" stroke="#1a9c87" stroke-width="0.28" textLength="102.6" lengthAdjust="spacingAndGlyphs">+88.55 (+0.08%)</text>
</g>
<rect x="1509" y="1" width="85.5" height="31.5" rx="4.5" fill="#0f0f0f" stroke="#2e323d" stroke-width="1.2"/>
<text filter="url(#idf)" x="1520.4" y="21.2" font-size="14.6" fill="#dcdee3" stroke="#dcdee3" stroke-width="0.35" textLength="34.6" lengthAdjust="spacingAndGlyphs">USDT</text>
<text filter="url(#idf)" x="666.2" y="1318.2" font-size="63" font-weight="bold" fill="#ffffff" stroke="#ffffff" stroke-width="1.1" textLength="364" lengthAdjust="spacingAndGlyphs">@TedPillows</text>
<g id="bolt">
<circle cx="1310.25" cy="1354.6" r="12.2" fill="#170d1f" stroke="#a653b6" stroke-width="2"/>
<path d="M1313.4 1348.9 L1305.4 1355.3 L1309.6 1355.3 L1306.6 1360.8 L1314.6 1354.3 L1310.4 1354.3 Z" fill="#c653d8"/>
<circle cx="1318.75" cy="1346.25" r="5" fill="#180c10"/>
<circle cx="1318.75" cy="1346.25" r="3.3" fill="#f24452"/>
</g>
</svg></body></html>
